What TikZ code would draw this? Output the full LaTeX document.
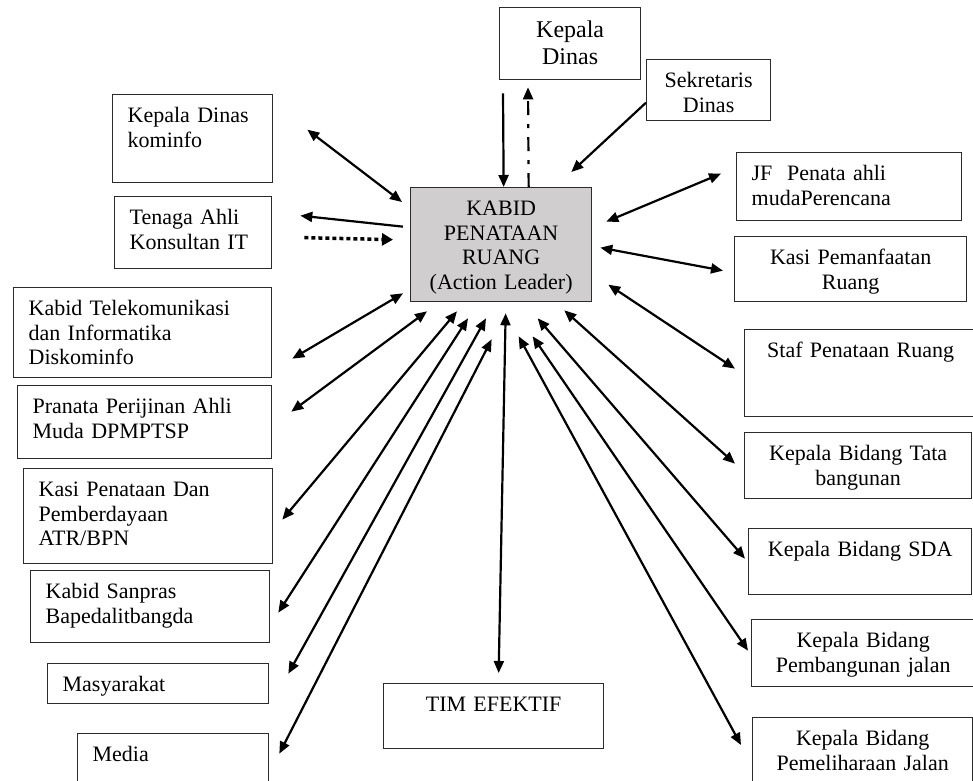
\documentclass[tikz,border=0pt]{standalone}
\usepackage{fontspec}
\setmainfont{Liberation Serif}
\usepackage{tikz}
\usetikzlibrary{arrows.meta}
\definecolor{LeaderGray}{HTML}{D0CECE}
\definecolor{FrameGray}{HTML}{2B2B2B}

\begin{document}
\begin{tikzpicture}[x=1pt, y=-1pt,
    box/.style={draw=FrameGray, line width=1.3pt, anchor=north west, font=\fontsize{22}{24.5}\selectfont, inner xsep=15pt, inner ysep=12pt, text height=16pt, align=left},
    mid/.style={box, align=center},
    arr/.style={-{Triangle[length=12pt, width=10pt]}, line width=2.2pt},
    dbl/.style={{Triangle[length=12pt, width=10pt]}-{Triangle[length=12pt, width=10pt]}, line width=2.2pt}
  ]
    \useasboundingbox (0,0) rectangle (973,780);

    \node[mid, fill=LeaderGray, text width=151pt, text depth=74pt] (kabid) at (410,187) {KABID\\PENATAAN\\RUANG\\(Action Leader)};
    \node[mid, text width=111pt, text height=18pt, text depth=30pt, font=\fontsize{24}{27}\selectfont] (kadis) at (499,7) {Kepala\\Dinas};
    \node[mid, inner xsep=6pt, text width=112pt, text depth=21pt] (sekr) at (646,59) {Sekretaris\\Dinas};

    \node[box, text width=130pt, text depth=48pt] (kominfo) at (112,94) {Kepala Dinas\\kominfo};
    \node[box, text width=127pt, text depth=32pt] (tenaga) at (114,196) {Tenaga Ahli\\Konsultan IT};
    \node[box, text width=228pt, text depth=50pt] (telekom) at (13,287) {Kabid Telekomunikasi\\dan Informatika\\Diskominfo};
    \node[box, text width=224pt, text depth=33pt] (pranata) at (17,385) {Pranata Perijinan Ahli\\Muda DPMPTSP};
    \node[box, text width=219pt, text depth=55pt] (kasipen) at (23,468) {Kasi Penataan Dan\\Pemberdayaan\\ATR/BPN};
    \node[box, text width=209pt, text depth=32pt] (sanpras) at (30,570) {Kabid Sanpras\\Bapedalitbangda};
    \node[box, text width=191pt, text depth=0pt] (masy) at (47,663) {Masyarakat};
    \node[box, text width=161pt, text depth=10pt] (media) at (77,733) {Media};
    \node[mid, text width=190pt, text depth=25pt] (tim) at (383,683) {TIM EFEKTIF};

    \node[box, text width=195pt, text depth=28pt] (jf) at (736,152) {JF\ \ Penata ahli\\mudaPerencana};
    \node[mid, text width=202pt, text depth=25pt] (kpem) at (734,236) {Kasi Pemanfaatan\\Ruang};
    \node[mid, text width=202pt, text depth=47pt] (staf) at (744,329) {Staf Penataan Ruang};
    \node[mid, text width=197pt, text depth=26pt] (tata) at (744,432) {Kepala Bidang Tata\\bangunan};
    \node[mid, text width=193pt, text depth=26pt] (sda) at (748,528) {Kepala Bidang SDA};
    \node[mid, text width=193pt, text depth=27pt] (pemb) at (751,619) {Kepala Bidang\\Pembangunan jalan};
    \node[mid, text width=190pt, text depth=30pt] (pemel) at (752,717) {Kepala Bidang\\Pemeliharaan Jalan};

    \draw[arr] ([shift={(4,13)}]kadis.south west) -- ([shift={(2.5,0)}]kabid.north);
    \draw[arr, dash pattern=on 14pt off 9pt on 4pt off 9pt] ([shift={(27.5,0)}]kabid.north) -- ([shift={(29,7)}]kadis.south west);
    \draw[arr] ([shift={(0,12.5)}]sekr.west) -- ([shift={(-21,-15)}]kabid.north east);
    \draw[dbl] ([shift={(34,-9)}]kominfo.east) -- ([shift={(-8,15)}]kabid.north west);
    \draw[arr] ([shift={(-7,-18)}]kabid.west) -- ([shift={(28,-17)}]tenaga.east);
    \draw[-{Triangle[length=11pt, width=12pt]}, line width=3.5pt, dash pattern=on 4pt off 3pt] ([shift={(32,5)}]tenaga.east) -- ([shift={(-17,-5)}]kabid.west);
    \draw[dbl] ([shift={(-7,-9)}]kabid.south west) -- ([shift={(20,26)}]telekom.east);
    \draw[dbl] ([shift={(17,9)}]kabid.south west) -- ([shift={(19,-10.5)}]pranata.east);
    \draw[dbl] ([shift={(47,9)}]kabid.south west) -- ([shift={(9,3.5)}]kasipen.east);
    \draw[dbl] ([shift={(58,16)}]kabid.south west) -- ([shift={(8,6)}]sanpras.east);
    \draw[dbl] ([shift={(76,16)}]kabid.south west) -- ([shift={(19,-10)}]masy.east);
    \draw[dbl] ([shift={(-9.5,37)}]kabid.south) -- ([shift={(10,-5)}]media.east);
    \draw[dbl] ([shift={(4.5,11)}]kabid.south) -- ([shift={(5,-10)}]tim.north);
    \draw[dbl] ([shift={(17.5,34)}]kabid.south) -- ([shift={(-11,28)}]pemel.north west);
    \draw[dbl] ([shift={(31.5,34)}]kabid.south) -- ([shift={(-3,-2.5)}]pemb.west);
    \draw[dbl] ([shift={(36.5,16)}]kabid.south) -- ([shift={(-3,-3)}]sda.west);
    \draw[dbl] ([shift={(-28,8)}]kabid.south east) -- ([shift={(-9,-2)}]tata.west);
    \draw[dbl] ([shift={(16,40)}]kabid.east) -- ([shift={(-9,-4.5)}]staf.west);
    \draw[dbl] ([shift={(8,3)}]kabid.east) -- ([shift={(-11,1.5)}]kpem.west);
    \draw[dbl] ([shift={(14,-23)}]kabid.east) -- ([shift={(-15,-13)}]jf.west);
  \end{tikzpicture}
\end{document}
